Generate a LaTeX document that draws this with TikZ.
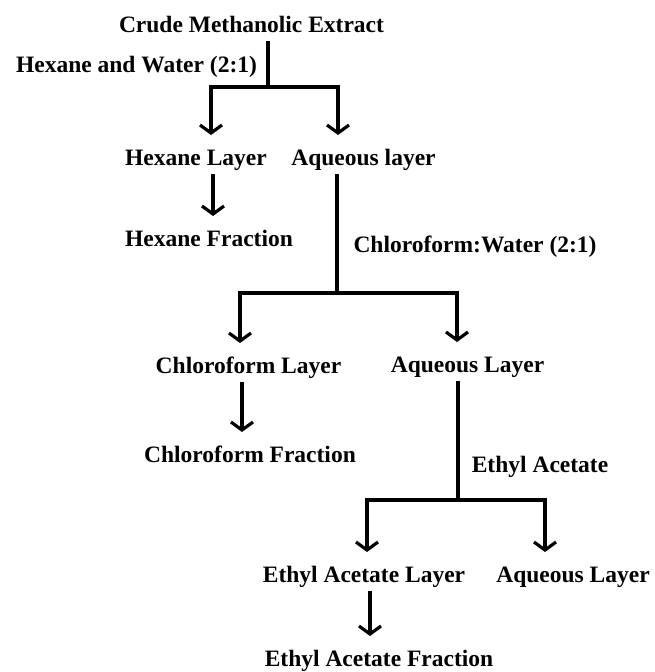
\documentclass[tikz,border=0pt]{standalone}
\usepackage{fontspec}
\setmainfont{Liberation Serif}
\usetikzlibrary{arrows.meta}
\usetikzlibrary{positioning}

\begin{document}
\begin{tikzpicture}[x=1pt,y=-1pt,
  lbl/.style={anchor=base,inner sep=0pt,outer ysep=9pt,text height=21pt,text depth=0pt,
    font=\fontsize{23.5}{28}\selectfont\bfseries},
  ln/.style={line width=3.2pt,line join=miter},
  arr/.style={ln,-{Straight Barb[length=8pt,width=22pt]}}]
  \useasboundingbox (0,0) rectangle (654,672);

  \node[lbl] (crude) at (251.5,32) {Crude Methanolic Extract};
  \node[lbl] (hexwater) at (136.5,72) {Hexane and Water (2:1)};
  \node[lbl] (hexlayer) at (196,165) {Hexane Layer};
  \node[lbl] (aqlayer1) at (363.5,165) {Aqueous layer};
  \node[lbl] (hexfrac) at (209,246) {Hexane Fraction};
  \node[lbl] (chlwater) at (475,252) {Chloroform:Water (2:1)};
  \node[lbl] (chllayer) at (248.5,373) {Chloroform Layer};
  \node[lbl] (aqlayer2) at (467.5,372) {Aqueous Layer};
  \node[lbl] (chlfrac) at (250,462) {Chloroform Fraction};
  \node[lbl] (ethacet) at (540,472) {Ethyl Acetate};
  \node[lbl] (ealayer) at (364,582) {Ethyl Acetate Layer};
  \node[lbl] (aqlayer3) at (573,582) {Aqueous Layer};
  \node[lbl] (eafrac) at (379,666) {Ethyl Acetate Fraction};

  \coordinate (split1) at (268,87);
  \coordinate (split2) at (337,293);
  \coordinate (split3) at (458,500);

  \draw[ln] (crude.south -| split1) -- (split1);
  \draw[arr] (split1) -| ([xshift=15pt]hexlayer.north);
  \draw[arr] (split1) -| ([xshift=-25.5pt]aqlayer1.north);
  \draw[arr] ([xshift=17pt]hexlayer.south) -- ([xshift=17pt]hexlayer.south |- hexfrac.north);

  \draw[ln] (aqlayer1.south -| split2) -- (split2);
  \draw[arr] (split2) -| ([xshift=-8.5pt]chllayer.north);
  \draw[arr] (split2) -| ([xshift=-10.5pt]aqlayer2.north);
  \draw[arr] ([xshift=-6.5pt]chllayer.south) -- ([xshift=-6.5pt]chllayer.south |- chlfrac.north);

  \draw[ln] (aqlayer2.south -| split3) -- (split3);
  \draw[arr] (split3) -| ([xshift=3pt]ealayer.north);
  \draw[arr] (split3) -| ([xshift=-28pt]aqlayer3.north);
  \draw[arr] ([xshift=6pt]ealayer.south) -- ([xshift=6pt]ealayer.south |- eafrac.north);
\end{tikzpicture}
\end{document}
